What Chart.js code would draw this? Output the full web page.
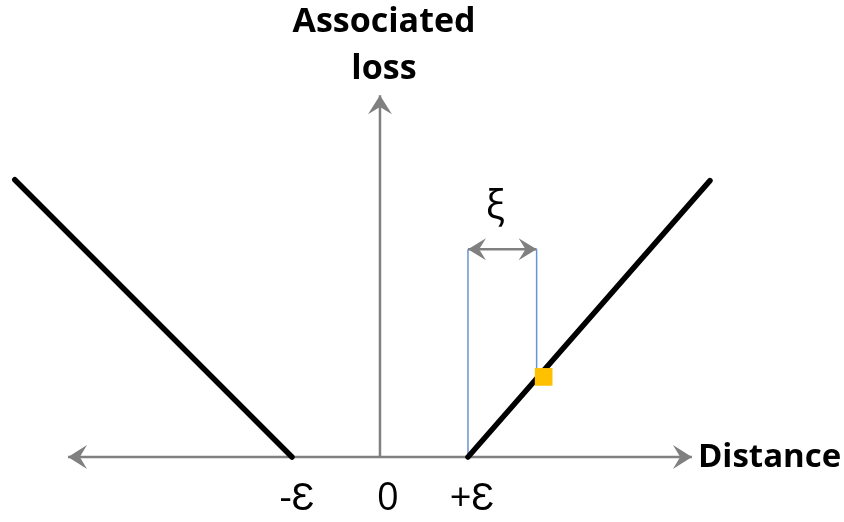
<!DOCTYPE html>
<html>
<head>
<meta charset="utf-8">
<script src="https://cdn.jsdelivr.net/npm/chart.js@4/dist/chart.umd.min.js"></script>
<style>
  html, body { margin: 0; padding: 0; background: #ffffff; }
  #wrap { width: 844px; height: 522px; }
</style>
</head>
<body>
<div id="wrap"><canvas id="c" width="844" height="522"></canvas></div>
<script>
// ---- data (distance in units of epsilon) ----
const tickValues = [-1, 0, 1];
const tickLabels = ['-Ɛ', '0', '+Ɛ'];
const xAxisTitle = 'Distance';
const yAxisTitle = ['Associated', 'loss'];
const slackLabel = 'ξ';

const leftLossX = [-4.15, -1];
const leftLossY = [3.15, 0];
const rightLossX = [1, 3.75];
const rightLossY = [0, 3.14];

const xAxisX = [-3.545, 3.545];
const xAxisY = [0, 0];
const yAxisX = [0, 0];
const yAxisY = [0, 4.11];

const slackX = [1.86];          // sample point outside the tube
const slackY = [0.91];
const bracketTop = [2.36];
const bracketLeftX = [1, 1];
const bracketRightX = [1.78, 1.78];

const toPts = (xs, ys) => xs.map((x, i) => ({ x: x, y: ys[i] }));

const GRAY = '#808080';

function lineDs(data, color, width, order, cap) {
  return {
    data: data, showLine: true, borderColor: color, borderWidth: width,
    pointRadius: 0, pointHoverRadius: 0, fill: false, tension: 0,
    borderCapStyle: cap || 'butt', order: order
  };
}

const datasets = [
  lineDs(toPts(xAxisX, xAxisY), GRAY, 2.5, 4),
  lineDs(toPts(yAxisX, yAxisY), GRAY, 2.5, 4),
  lineDs(toPts(bracketLeftX, [0, bracketTop[0]]), '#6a93d4', 1.5, 3),
  lineDs(toPts(bracketRightX, [slackY[0], bracketTop[0]]), '#6a93d4', 1.5, 3),
  lineDs(toPts([bracketLeftX[0], bracketRightX[0]], [bracketTop[0], bracketTop[0]]), GRAY, 2.5, 3),
  lineDs(toPts(leftLossX, leftLossY), '#000000', 5.5, 1, 'round'),
  lineDs(toPts(rightLossX, rightLossY), '#000000', 5.5, 1, 'round'),
  {
    data: toPts(slackX, slackY), showLine: false, order: 0,
    pointStyle: 'rect', pointRadius: 12.5, pointHoverRadius: 12.5,
    backgroundColor: '#FFC000', borderColor: '#FFC000', borderWidth: 0
  }
];

function stealth(ctx, tx, ty, angle, len, half) {
  ctx.save();
  ctx.translate(tx, ty);
  ctx.rotate(angle);
  ctx.beginPath();
  ctx.moveTo(0, 0);
  ctx.lineTo(-len, -half);
  ctx.lineTo(-len * 0.62, 0);
  ctx.lineTo(-len, half);
  ctx.closePath();
  ctx.fillStyle = GRAY;
  ctx.fill();
  ctx.restore();
}

const decor = {
  id: 'decor',
  afterDatasetsDraw(chart) {
    const ctx = chart.ctx;
    const xs = chart.scales.x, ys = chart.scales.y;
    const px = v => xs.getPixelForValue(v);
    const py = v => ys.getPixelForValue(v);
    // axis arrowheads
    stealth(ctx, px(xAxisX[1]), py(0), 0, 19, 12);
    stealth(ctx, px(xAxisX[0]), py(0), Math.PI, 19, 12);
    stealth(ctx, px(0), py(yAxisY[1]), -Math.PI / 2, 19, 12);
    // slack bracket arrowheads
    stealth(ctx, px(bracketLeftX[0]), py(bracketTop[0]), Math.PI, 18, 11);
    stealth(ctx, px(bracketRightX[0]), py(bracketTop[0]), 0, 18, 11);

    ctx.save();
    ctx.fillStyle = '#000000';
    ctx.textBaseline = 'middle';
    ctx.textAlign = 'center';
    // tick labels
    ctx.font = '38px "Open Sans", sans-serif';
    const offs = [5, 8, 4];
    tickValues.forEach((v, i) => {
      ctx.fillText(tickLabels[i], px(v) + offs[i], py(0) + 42);
    });
    // slack label
    ctx.font = '40px "Open Sans", sans-serif';
    ctx.fillText(slackLabel, (px(bracketLeftX[0]) + px(bracketRightX[0])) / 2 - 7, py(bracketTop[0]) - 42);
    // axis titles
    ctx.font = 'bold 33px "Open Sans", sans-serif';
    ctx.textAlign = 'left';
    ctx.fillText(xAxisTitle, px(xAxisX[1]) + 6, py(0) + 1);
    ctx.font = 'bold 34px "Open Sans", sans-serif';
    ctx.textAlign = 'center';
    ctx.fillText(yAxisTitle[0], px(0) + 4, 22);
    ctx.fillText(yAxisTitle[1], px(0) + 4, 69);
    ctx.restore();
  }
};

new Chart(document.getElementById('c'), {
  type: 'scatter',
  data: { datasets: datasets },
  options: {
    responsive: false,
    animation: false,
    events: [],
    layout: { padding: 0, autoPadding: false },
    plugins: { legend: { display: false }, tooltip: { enabled: false } },
    scales: {
      x: { type: 'linear', display: false, min: -4.318, max: 5.273 },
      y: { type: 'linear', display: false, min: -0.739, max: 5.193 }
    }
  },
  plugins: [decor]
});
</script>
</body>
</html>
